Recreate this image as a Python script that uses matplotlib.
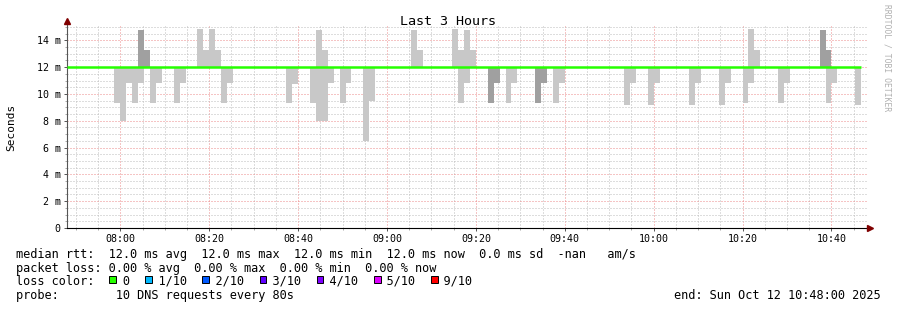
import matplotlib
matplotlib.use("Agg")
import matplotlib.pyplot as plt
import matplotlib.dates as mdates
from matplotlib.patches import Rectangle
from matplotlib.ticker import MultipleLocator, FixedLocator
import numpy as np
import pandas as pd

# ---- data ----
start = pd.Timestamp("2025-10-12 07:48:00")
end = pd.Timestamp("2025-10-12 10:48:00")
step_s = 80
median_ms = 12.0
median_last_step = 134          # median line stops here

# smoke above the median (step index, top in ms, dark shade?)
up_steps = [12, 13, 22, 23, 24, 25, 42, 43, 58, 59, 65, 66, 67, 68, 115, 116, 127, 128]
up_vals = [14.8, 13.3, 14.85, 13.3, 14.85, 13.3, 14.8, 13.3, 14.8, 13.3,
           14.85, 13.3, 14.8, 13.3, 14.85, 13.3, 14.8, 13.3]
up_dark = [1, 1, 0, 0, 0, 0, 0, 0, 0, 0, 0, 0, 0, 0, 0, 0, 1, 1]

# smoke below the median (step index, bottom in ms, dark shade?)
lo_steps = [8, 9, 10, 11, 12, 14, 15, 18, 19, 26, 27, 37, 38, 41, 42, 43, 44, 46, 47,
            50, 51, 66, 67, 71, 72, 74, 75, 79, 80, 82, 83, 94, 95, 98, 99, 105, 106,
            110, 111, 114, 115, 120, 121, 128, 129, 133]
lo_vals = [9.3, 8.0, 10.85, 9.3, 10.85, 9.3, 10.85, 9.3, 10.85, 9.3, 10.85, 9.3, 10.75,
           9.3, 8.0, 8.0, 10.85, 9.3, 10.85, 6.5, 9.5, 9.3, 10.85, 9.3, 10.85, 9.3, 10.85,
           9.3, 10.85, 9.3, 10.85, 9.2, 10.85, 9.2, 10.85, 9.2, 10.85, 9.2, 10.85, 9.3,
           10.85, 9.3, 10.85, 9.3, 10.85, 9.2]
lo_dark = [0] * 23 + [1, 1, 0, 0, 1, 1] + [0] * 17

ytick_vals = [0, 2, 4, 6, 8, 10, 12, 14]
ytick_labels = ["0", "2 m", "4 m", "6 m", "8 m", "10 m", "12 m", "14 m"]

title = "Last 3 Hours"
row_rtt = "median rtt:  12.0 ms avg  12.0 ms max  12.0 ms min  12.0 ms now  0.0 ms sd  -nan   am/s"
row_loss = "packet loss: 0.00 % avg  0.00 % max  0.00 % min  0.00 % now"
row_probe = "probe:        10 DNS requests every 80s"
end_text = "end: Sun Oct 12 10:48:00 2025"
loss_labels = ["0", "1/10", "2/10", "3/10", "4/10", "5/10", "9/10"]
loss_colors = ["#26ff00", "#00b8ff", "#0059ff", "#5e00ff", "#7e00ff", "#dd00ff", "#ff0000"]

light = "#c8c8c8"
dark = "#a0a0a0"

W, H = 897, 310
plt.rcParams["font.family"] = ["DejaVu Sans Mono"]

fig = plt.figure(figsize=(W / 100, H / 100), dpi=100)
fig.patch.set_facecolor("white")
ax = fig.add_axes([67 / W, (H - 228) / H, 800 / W, 202 / H])

t0 = mdates.date2num(start.to_pydatetime())
dx = step_s / 86400.0

ux = t0 + np.array(up_steps) * dx
ax.bar(ux, np.array(up_vals) - median_ms, bottom=median_ms, width=dx, align="edge",
       color=[dark if d else light for d in up_dark], linewidth=0, zorder=2)
lx = t0 + np.array(lo_steps) * dx
ax.bar(lx, median_ms - np.array(lo_vals), bottom=np.array(lo_vals), width=dx, align="edge",
       color=[dark if d else light for d in lo_dark], linewidth=0, zorder=2)

ax.plot([t0, t0 + median_last_step * dx], [median_ms, median_ms], color="#26ff00",
        lw=1.8, solid_capstyle="butt", zorder=3)

ax.set_xlim(t0, mdates.date2num(end.to_pydatetime()))
ax.set_ylim(0, 15.07)

ax.xaxis.set_major_locator(mdates.MinuteLocator(byminute=[0, 20, 40]))
ax.xaxis.set_minor_locator(mdates.MinuteLocator(byminute=range(0, 60, 5)))
ax.xaxis.set_major_formatter(mdates.DateFormatter("%H:%M"))
ax.yaxis.set_major_locator(FixedLocator(ytick_vals))
ax.set_yticklabels(ytick_labels)
ax.yaxis.set_minor_locator(MultipleLocator(0.5))

ax.grid(which="minor", color="#bdbdbd", ls=(0, (1, 2)), lw=0.72, zorder=0)
ax.grid(which="major", color="#ec8a8a", ls=(0, (1, 2)), lw=0.72, zorder=1)
ax.set_axisbelow(True)

ax.tick_params(which="major", length=2.5, width=0.7, color="#555555", labelsize=7.2, pad=2)
ax.tick_params(which="minor", length=1.2, width=0.5, color="#888888")
ax.tick_params(axis="x", which="major", pad=1.5)

for s in ["top", "right"]:
    ax.spines[s].set_visible(False)
ax.spines["left"].set_color("#555555")
ax.spines["bottom"].set_color("#000000")
ax.spines["left"].set_linewidth(0.8)
ax.spines["bottom"].set_linewidth(0.8)
ax.spines["left"].set_bounds(0, 15.35)
ax.plot([1 + 3 / 800], [0], marker=">", ms=4, color="#800000", transform=ax.transAxes,
        clip_on=False, zorder=5)
ax.plot([0], [1 + 5 / 202], marker="^", ms=4, color="#800000", transform=ax.transAxes,
        clip_on=False, zorder=5)

# texts
fig.text(448 / W, (H - 25) / H, title, ha="center", va="baseline", fontsize=9.6)
fig.text(11 / W, (H - 127) / H, "Seconds", rotation=90, ha="center", va="center", fontsize=8)
fig.text(887 / W, (H - 4) / H, "RRDTOOL / TOBI OETIKER", rotation=270, ha="center",
         va="top", fontsize=5.8, color="#b0b0b0")

adv = 7.15
fs = 8.55
base = [258, 271.7, 285, 298.7]
fig.text(16 / W, (H - base[0]) / H, row_rtt, ha="left", va="baseline", fontsize=fs)
fig.text(16 / W, (H - base[1]) / H, row_loss, ha="left", va="baseline", fontsize=fs)
row3 = "loss color:  "
cols = []
for lab in loss_labels:
    cols.append(len(row3))
    row3 += "  " + lab + "  "
fig.text(16 / W, (H - base[2]) / H, row3.rstrip(), ha="left", va="baseline", fontsize=fs)
for c, colr in zip(cols, loss_colors):
    x = 16 + c * adv + 0.5
    fig.add_artist(Rectangle((x / W, (H - base[2] + 2) / H), 6.5 / W, 7.5 / H,
                             transform=fig.transFigure, facecolor=colr,
                             edgecolor="black", lw=0.7))
fig.text(16 / W, (H - base[3]) / H, row_probe, ha="left", va="baseline", fontsize=fs)
fig.text(881 / W, (H - base[3]) / H, end_text, ha="right", va="baseline", fontsize=fs)

fig.savefig("out.png", dpi=100, facecolor="white")
